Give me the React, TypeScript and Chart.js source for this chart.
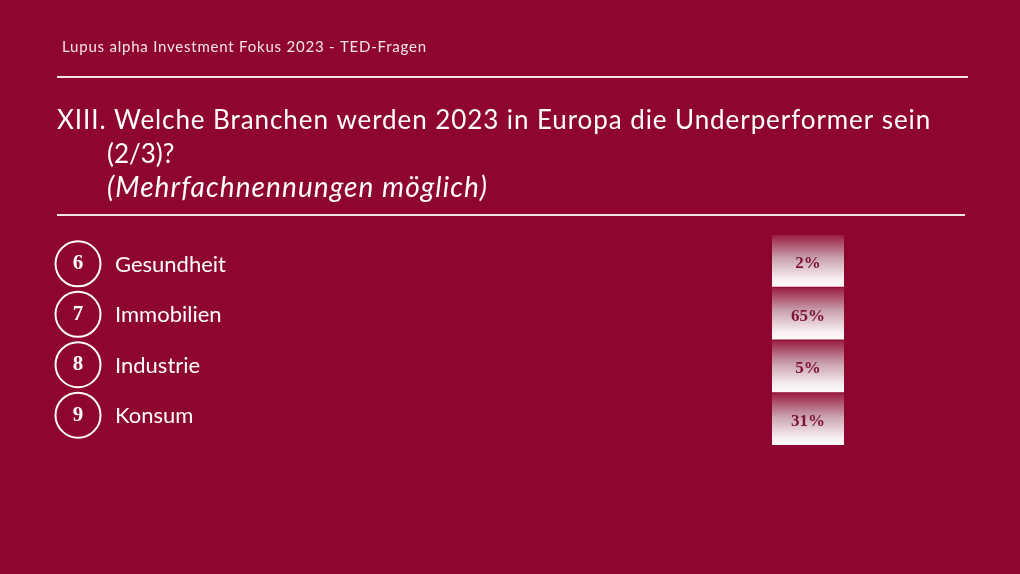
import React, { useEffect, useRef } from "react";
import { Chart, registerables } from "chart.js";

Chart.register(...registerables);

const header = "Lupus alpha Investment Fokus 2023 - TED-Fragen";
const titleLines = [
  "XIII. Welche Branchen werden 2023 in Europa die Underperformer sein",
  "(2/3)?",
  "(Mehrfachnennungen möglich)",
];
const numbers = ["6", "7", "8", "9"];
const categories = ["Gesundheit", "Immobilien", "Industrie", "Konsum"];
const values = [2, 65, 5, 31];

const BG = "#8e0530";
const SANS = "Lato, 'Open Sans', sans-serif";
const SERIF = "'Liberation Serif', 'DejaVu Serif', serif";

function fitText(ctx: any, text: string, x: number, y: number, target: number) {
  ctx.letterSpacing = "0px";
  const w = ctx.measureText(text).width;
  const sp = Math.max(0, (target - w) / Math.max(1, text.length - 1));
  ctx.letterSpacing = sp.toFixed(2) + "px";
  ctx.fillText(text, x, y);
  ctx.letterSpacing = "0px";
}

const slidePlugin = {
  id: "slide",
  beforeDraw(chart: any) {
    const ctx = chart.ctx;
    ctx.save();
    ctx.fillStyle = BG;
    ctx.fillRect(0, 0, chart.width, chart.height);
    ctx.fillStyle = "#f6e6ec";
    ctx.textBaseline = "alphabetic";
    ctx.textAlign = "left";
    ctx.font = `15px ${SANS}`;
    fitText(ctx, header, 62, 52, 364);
    ctx.strokeStyle = "#f4e4ea";
    ctx.lineWidth = 2;
    ctx.beginPath();
    ctx.moveTo(57, 77);
    ctx.lineTo(968, 77);
    ctx.stroke();
    ctx.fillStyle = "#ffffff";
    ctx.font = `26px ${SANS}`;
    fitText(ctx, titleLines[0], 57, 129, 873);
    ctx.fillText(titleLines[1], 107, 163);
    ctx.font = `italic 28px ${SANS}`;
    fitText(ctx, titleLines[2], 107, 197, 380);
    ctx.beginPath();
    ctx.moveTo(57, 215);
    ctx.lineTo(965, 215);
    ctx.stroke();
    ctx.restore();
  },
  afterDatasetsDraw(chart: any) {
    const ctx = chart.ctx;
    const area = chart.chartArea;
    const meta = chart.getDatasetMeta(0);
    const mid = (area.top + area.bottom) / 2;
    ctx.save();
    meta.data.forEach((el: any, i: number) => {
      const { y, height } = el.getProps(["y", "height"], true);
      const top = y - height / 2;
      const g = ctx.createLinearGradient(0, top, 0, top + height);
      g.addColorStop(0, "#98183e");
      g.addColorStop(0.45, "#c8a0ac");
      g.addColorStop(0.85, "#f7eef1");
      g.addColorStop(1, "#fdf9fa");
      ctx.fillStyle = g;
      ctx.fillRect(area.left, top + 1, area.right - area.left, height - 1);
      ctx.fillStyle = "#7e1034";
      ctx.font = `bold 17px ${SERIF}`;
      ctx.textAlign = "center";
      ctx.textBaseline = "middle";
      ctx.fillText(values[i] + "%", (area.left + area.right) / 2, y + 3);

      const ly = mid + (y - mid) * 0.957;
      ctx.strokeStyle = "#ffffff";
      ctx.lineWidth = 2;
      ctx.beginPath();
      ctx.arc(78, ly, 22.5, 0, Math.PI * 2);
      ctx.stroke();
      ctx.fillStyle = "#ffffff";
      ctx.font = `bold 21px ${SERIF}`;
      ctx.fillText(numbers[i], 78, ly);
      ctx.textAlign = "left";
      ctx.textBaseline = "alphabetic";
      ctx.font = `22px ${SANS}`;
      ctx.fillText(chart.data.labels[i], 115, ly + 8);
    });
    ctx.restore();
  },
};

export default function App() {
  const ref = useRef<HTMLCanvasElement>(null);
  useEffect(() => {
    document.body.style.margin = "0";
    document.body.style.background = BG;
    const chart = new Chart(ref.current!, {
      type: "bar",
      data: {
        labels: categories,
        datasets: [
          {
            data: values,
            backgroundColor: "rgba(0,0,0,0)",
            borderWidth: 0,
            barPercentage: 1,
            categoryPercentage: 1,
          },
        ],
      },
      options: {
        indexAxis: "y",
        responsive: false,
        animation: false,
        layout: { padding: { top: 234, bottom: 129, left: 772, right: 176 } },
        scales: {
          x: { display: false, min: 0, max: 100 },
          y: { display: false },
        },
        plugins: { legend: { display: false }, tooltip: { enabled: false } },
      },
      plugins: [slidePlugin],
    });
    return () => chart.destroy();
  }, []);
  return (
    <div style={{ position: "absolute", left: 0, top: 0, width: 1020, height: 574 }}>
      <canvas ref={ref} width={1020} height={574} />
    </div>
  );
}
